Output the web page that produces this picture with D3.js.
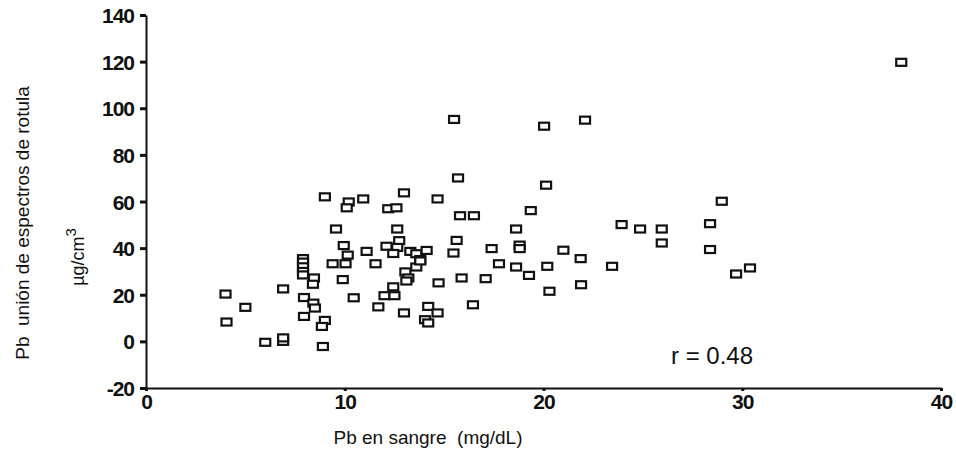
<!DOCTYPE html>
<html>
<head>
<meta charset="utf-8">
<script src="https://cdn.jsdelivr.net/npm/d3@7"></script>
<style>
    body { margin: 0; background: #fff; }
    .tick text { font-family: "Liberation Sans", Arial, sans-serif; font-weight: bold; font-size: 21px; letter-spacing: -1px; }
    .lbl { font-family: "Liberation Sans", Arial, sans-serif; fill: #111; white-space: pre; }
</style>
</head>
<body>
<div id="chart"></div>
<script>

// Pb en sangre (mg/dL) vs Pb rotula (ug/cm3)
let bloodPb = [4.0, 4.05, 5.0, 6.0, 6.9, 6.9, 6.9, 7.9, 7.9, 7.9, 7.9, 7.9, 7.95, 7.95, 8.45, 8.4, 8.42, 8.5, 9.0, 8.85,
    8.9, 9.0, 9.56, 9.39, 10.04, 9.95, 10.15, 9.9, 10.2, 10.1, 10.93, 10.45, 11.1, 11.55, 11.69, 12.19, 12.6, 12.98,
    12.64, 12.74, 12.1, 12.64, 12.44, 12.0, 12.5, 12.44, 12.98, 13.05, 13.2, 13.1, 13.3, 13.6, 13.8, 13.6, 13.8, 14.12,
    14.67, 14.72, 14.2, 14.67, 14.04, 14.2, 15.5, 15.7, 15.63, 15.47, 15.8, 16.5, 15.88, 16.45, 17.39, 17.76, 17.09,
    18.62, 18.8, 18.8, 18.62, 19.36, 19.27, 20.03, 20.13, 20.19, 20.3, 21.0, 21.87, 21.89, 22.09, 23.45, 23.93, 24.86,
    25.95, 25.95, 28.38, 28.38, 28.97, 29.69, 30.39, 38.0];
let patellaPb = [20.3, 8.3, 14.6, -0.4, 0.0, 1.5, 22.5, 35.5, 34, 32, 30, 28.5, 18.8, 10.7, 27.2, 24.5, 16.4, 14.3, 9.0, 6.4,
    -2.2, 62, 48.2, 33.3, 33.3, 41.1, 37, 26.5, 59.8, 57.3, 61.1, 18.7, 38.6, 33.3, 14.8, 56.9, 57.3, 63.7,
    48.2, 43.2, 40.8, 40.3, 37.7, 19.6, 19.6, 23.4, 12.2, 29.8, 27.2, 25.9, 38.6, 37.6, 35.1, 31.9, 34.5, 39.0,
    61.1, 25.1, 15.0, 12.2, 9.3, 7.9, 95.2, 70.1, 43.3, 37.9, 53.9, 53.9, 27.2, 15.7, 39.8, 33.3, 26.9,
    48.2, 41.3, 39.8, 31.9, 56.1, 28.3, 92.3, 67, 32.2, 21.5, 39.1, 35.5, 24.3, 94.9, 32.2, 50.1, 48.2,
    48.2, 42.2, 50.5, 39.4, 60.1, 28.9, 31.5, 119.7];

let xTicks = [0, 10, 20, 30, 40];
let yTicks = [-20, 0, 20, 40, 60, 80, 100, 120, 140];
let rLabel = "r = 0.48";

let width = 956, height = 454;

let svg = d3.select("#chart").append("svg")
    .attr("width", width)
    .attr("height", height);

// scales
let x = d3.scaleLinear().domain([0, 40]).range([146, 941]);
let y = d3.scaleLinear().domain([-20, 140]).range([388, 15]);

// y axis
let yAxis = svg.append("g")
    .attr("transform", `translate(${x(0)},0)`)
    .call(d3.axisLeft(y).tickValues(yTicks).tickFormat(d => String(d))
        .tickSize(6).tickSizeOuter(0).tickPadding(6));
yAxis.select(".domain").attr("stroke", "#111").attr("stroke-width", 2);
yAxis.selectAll(".tick line").attr("stroke", "#111").attr("stroke-width", 3);
yAxis.selectAll(".tick text").attr("fill", "#111").attr("dy", "0.36em");

// x axis
let xAxis = svg.append("g")
    .attr("transform", `translate(0,${y(-20)})`)
    .call(d3.axisBottom(x).tickValues(xTicks).tickSize(3).tickSizeOuter(0).tickPadding(3));
xAxis.select(".domain").attr("stroke", "#111").attr("stroke-width", 2);
xAxis.selectAll(".tick line").attr("stroke", "#111").attr("stroke-width", 3);
xAxis.selectAll(".tick text").attr("fill", "#111");

// points
let pts = bloodPb.map((d, i) => [d, patellaPb[i]]);
svg.selectAll(".pt")
    .data(pts)
    .enter().append("rect")
    .attr("class", "pt")
    .attr("x", d => x(d[0]) - 5)
    .attr("y", d => y(d[1]) - 3.5)
    .attr("width", 10)
    .attr("height", 7)
    .attr("fill", "white")
    .attr("stroke", "#111")
    .attr("stroke-width", 2.2);

// labels
svg.append("text")
    .attr("class", "lbl")
    .attr("transform", "translate(29,223) rotate(-90)")
    .attr("text-anchor", "middle")
    .style("font-size", "19px")
    .text("Pb  unión de espectros de rotula");

let unit = svg.append("text")
    .attr("class", "lbl")
    .attr("transform", "translate(84,257) rotate(-90)")
    .attr("text-anchor", "middle")
    .style("font-size", "18px");
unit.append("tspan").text("µg/cm");
unit.append("tspan").attr("dy", -8).style("font-size", "15px").text("3");

svg.append("text")
    .attr("class", "lbl")
    .attr("x", 428)
    .attr("y", 444)
    .attr("text-anchor", "middle")
    .style("font-size", "19px")
    .text("Pb en sangre  (mg/dL)");

svg.append("text")
    .attr("class", "lbl")
    .attr("x", 671)
    .attr("y", 364)
    .style("font-size", "24px")
    .text(rLabel);

</script>
</body>
</html>
